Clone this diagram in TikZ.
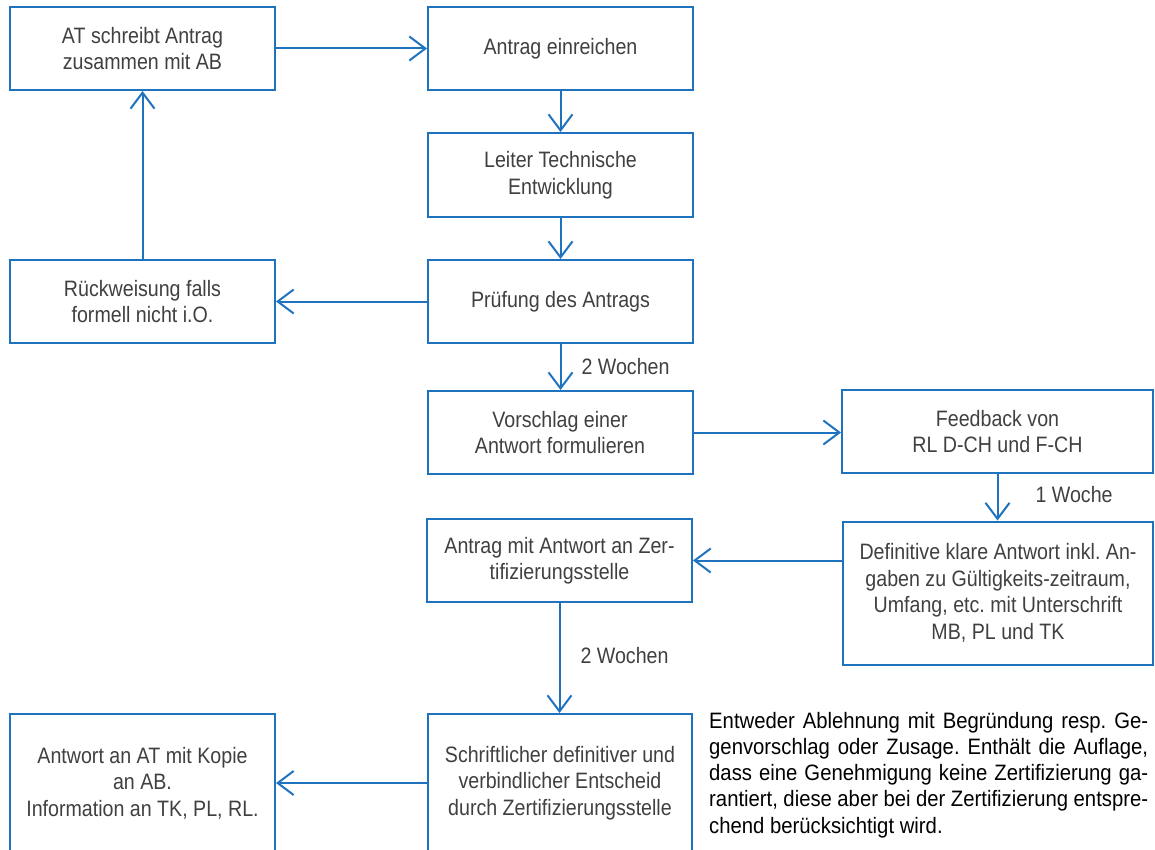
\documentclass[tikz,border=0pt]{standalone}
\usepackage{fontspec}
\setmainfont{Liberation Sans}[FakeStretch=0.88]
\newfontfamily\notefont{Liberation Sans}[FakeStretch=0.91]
\usetikzlibrary{arrows.meta}
\definecolor{boxblue}{RGB}{31,115,190}
\definecolor{txtgrey}{RGB}{64,64,64}
\newcommand\jline[1]{\hbox to 439pt{#1}}
\tikzset{
  box/.style={draw=boxblue, line width=2pt, rectangle, inner sep=0pt, align=center,
    text=txtgrey, font=\fontsize{22.3}{26.5}\selectfont\frenchspacing},
  conn/.style={draw=boxblue, line width=2pt, -{Straight Barb[length=16pt,width=24pt,line width=2pt]}},
  lbl/.style={text=txtgrey, font=\fontsize{22.3}{26.5}\selectfont, anchor=west, inner sep=0pt},
  note/.style={text=black, font=\notefont\fontsize{22.3}{26.2}\selectfont\frenchspacing, anchor=north west, inner sep=0pt, align=left}
}
\begin{document}
\begin{tikzpicture}[x=1pt,y=-1pt]
\clip (0,0) rectangle (1155,850);
\fill[white] (0,0) rectangle (1155,850);
\node[box, minimum width=265pt, minimum height=83pt] (A) at (142.5,48.5) {AT schreibt Antrag\\zusammen mit AB};
\node[box, minimum width=265pt, minimum height=83pt] (B) at (560.5,48.5) {Antrag einreichen};
\node[box, minimum width=265pt, minimum height=84pt] (C) at (560.5,175) {Leiter Technische\\Entwicklung};
\node[box, minimum width=265pt, minimum height=83pt] (D) at (560.5,301.5) {Prüfung des Antrags};
\node[box, minimum width=265pt, minimum height=83pt] (R) at (142.5,301.5) {Rückweisung falls\\formell nicht i.O.};
\node[box, minimum width=265pt, minimum height=83pt] (V) at (560,432.5) {Vorschlag einer\\Antwort formulieren};
\node[box, minimum width=311pt, minimum height=83pt] (F) at (997.5,431.5) {Feedback von\\RL D-CH und F-CH};
\node[box, minimum width=265pt, minimum height=83pt] (Z) at (559.5,560.5) {Antrag mit Antwort an Zer-\\tifizierungsstelle};
\node[box, minimum width=310pt, minimum height=143pt] (DK) at (998,593) {Definitive klare Antwort inkl. An-\\gaben zu Gültigkeits-zeitraum,\\Umfang, etc. mit Unterschrift\\MB, PL und TK};
\node[box, minimum width=264pt, minimum height=138pt] (S) at (560,783) {Schriftlicher definitiver und\\verbindlicher Entscheid\\durch Zertifizierungsstelle};
\node[box, minimum width=265pt, minimum height=138pt] (AW) at (142.5,783) {Antwort an AT mit Kopie\\an AB.\\Information an TK, PL, RL.};

\draw[conn] (A.east) -- (B.west);
\draw[conn] (B.south) -- (C.north);
\draw[conn] (C.south) -- (D.north);
\draw[conn] (D.west) -- (R.east);
\draw[conn] (R.north) -- (A.north |- A.south);
\draw[conn] (D.south) -- (V.north -| D.south) node[lbl, pos=0.5, xshift=20pt] (w1) {2 Wochen};
\draw[conn] (V.east) -- (V.east -| F.west);
\draw[conn] (F.south) -- (F.south |- DK.north) node[lbl, pos=0.45, xshift=37pt] (w2) {1 Woche};
\draw[conn] (DK.west |- Z.east) -- (Z.east);
\draw[conn] (Z.south) -- (Z.south |- S.north) node[lbl, pos=0.48, xshift=20pt] (w3) {2 Wochen};
\draw[conn] (S.west) -- (AW.east);

\node[note] (N) at (709,712) {\jline{Entweder Ablehnung mit Begründung resp. Ge-}\\\jline{genvorschlag oder Zusage. Enthält die Auflage,}\\\jline{dass eine Genehmigung keine Zertifizierung ga-}\\\jline{rantiert, diese aber bei der Zertifizierung entspre-}\\chend berücksichtigt wird.};
\end{tikzpicture}
\end{document}
